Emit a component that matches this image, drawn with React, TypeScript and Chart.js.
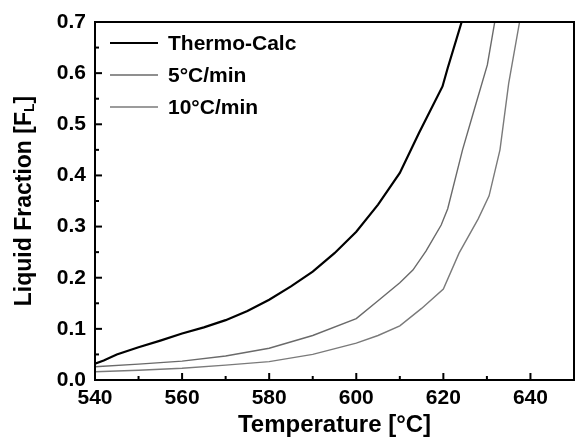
import React, { useEffect, useRef } from "react";
import { Chart, registerables } from "chart.js";

Chart.register(...registerables);

// ---- Data ----
const thermoTemps = [540, 542, 545, 550, 555, 560, 565, 570, 575, 580, 585, 590, 595, 600, 605, 610, 614.4, 619.8, 621, 624.2];
const thermoFrac = [0.032, 0.038, 0.05, 0.064, 0.077, 0.091, 0.103, 0.117, 0.135, 0.157, 0.183, 0.212, 0.248, 0.29, 0.343, 0.405, 0.483, 0.574, 0.61, 0.7];

const rate5Temps = [540, 550, 560, 570, 580, 590, 600, 605, 610, 613, 616, 619.5, 621, 624.4, 627, 630.1, 631.8];
const rate5Frac = [0.026, 0.031, 0.037, 0.047, 0.062, 0.087, 0.12, 0.155, 0.19, 0.215, 0.252, 0.303, 0.335, 0.45, 0.526, 0.616, 0.7];

const rate10Temps = [540, 550, 560, 570, 580, 590, 600, 605, 610, 615, 620, 623.6, 628, 630.5, 633, 635, 637.5];
const rate10Frac = [0.016, 0.019, 0.023, 0.029, 0.036, 0.05, 0.072, 0.087, 0.106, 0.14, 0.178, 0.248, 0.315, 0.36, 0.45, 0.58, 0.7];

const seriesLabels = ["Thermo-Calc", "5°C/min", "10°C/min"];

const xMajorTicks = [540, 560, 580, 600, 620, 640];
const xMinorTicks = [550, 570, 590, 610, 630, 650];
const yMajorTicks = [0.0, 0.1, 0.2, 0.3, 0.4, 0.5, 0.6, 0.7];
const yMinorTicks = [0.05, 0.15, 0.25, 0.35, 0.45, 0.55, 0.65];

const xTitle = "Temperature [°C]";
const yTitleMain = "Liquid Fraction [F";
const yTitleSub = "L";
const yTitleEnd = "]";

const FONT = "'Liberation Sans', Arial, Helvetica, sans-serif";

const toPoints = (xs: number[], ys: number[]) => xs.map((x, i) => ({ x, y: ys[i] }));

const decorPlugin = {
  id: "decor",
  afterDraw(chart: any) {
    const { ctx, chartArea, scales } = chart;
    const { left, right, top, bottom } = chartArea;
    const xs = scales.x;
    const ys = scales.y;
    ctx.save();
    ctx.strokeStyle = "#000";
    ctx.lineWidth = 2;
    ctx.strokeRect(left, top, right - left, bottom - top);

    const seg = (x1: number, y1: number, x2: number, y2: number) => {
      ctx.beginPath();
      ctx.moveTo(x1, y1);
      ctx.lineTo(x2, y2);
      ctx.stroke();
    };
    ctx.lineWidth = 2;
    xMajorTicks.forEach((v) => {
      const p = xs.getPixelForValue(v);
      seg(p, bottom, p, bottom - 7);
    });
    xMinorTicks.forEach((v) => {
      const p = xs.getPixelForValue(v);
      seg(p, bottom, p, bottom - 4);
    });
    yMajorTicks.forEach((v) => {
      const p = ys.getPixelForValue(v);
      seg(left, p, left + 7, p);
    });
    yMinorTicks.forEach((v) => {
      const p = ys.getPixelForValue(v);
      seg(left, p, left + 4, p);
    });

    // legend inside plot
    ctx.font = `bold 21px ${FONT}`;
    ctx.textBaseline = "middle";
    ctx.textAlign = "left";
    chart.data.datasets.forEach((ds: any, i: number) => {
      const y = top + 21 + i * 32;
      ctx.strokeStyle = ds.borderColor;
      ctx.lineWidth = ds.borderWidth;
      seg(left + 15, y, left + 63, y);
      ctx.fillStyle = "#000";
      ctx.fillText(ds.label, left + 73, y + 1);
    });

    // x axis title
    ctx.fillStyle = "#000";
    ctx.font = `bold 24px ${FONT}`;
    ctx.textAlign = "center";
    ctx.textBaseline = "middle";
    ctx.fillText(xTitle, (left + right) / 2, 425);

    // y axis title with subscript
    ctx.save();
    const cy = (top + bottom) / 2;
    ctx.translate(23, cy);
    ctx.rotate(-Math.PI / 2);
    const mainFont = `bold 23px ${FONT}`;
    const subFont = `bold 14px ${FONT}`;
    ctx.font = mainFont;
    const w1 = ctx.measureText(yTitleMain).width;
    const w3 = ctx.measureText(yTitleEnd).width;
    ctx.font = subFont;
    const w2 = ctx.measureText(yTitleSub).width;
    const total = w1 + w2 + w3;
    let x0 = -total / 2;
    ctx.textAlign = "left";
    ctx.textBaseline = "alphabetic";
    ctx.font = mainFont;
    ctx.fillText(yTitleMain, x0, 8);
    x0 += w1;
    ctx.font = subFont;
    ctx.fillText(yTitleSub, x0, 11);
    x0 += w2;
    ctx.font = mainFont;
    ctx.fillText(yTitleEnd, x0, 8);
    ctx.restore();

    ctx.restore();
  },
};

export default function App() {
  const canvasRef = useRef<HTMLCanvasElement | null>(null);

  useEffect(() => {
    if (!canvasRef.current) return;
    const chart = new Chart(canvasRef.current, {
      type: "scatter",
      data: {
        datasets: [
          {
            label: seriesLabels[0],
            data: toPoints(thermoTemps, thermoFrac),
            showLine: true,
            borderColor: "#000000",
            borderWidth: 2.2,
            pointRadius: 0,
            tension: 0,
          },
          {
            label: seriesLabels[1],
            data: toPoints(rate5Temps, rate5Frac),
            showLine: true,
            borderColor: "#6a6a6a",
            borderWidth: 1.4,
            pointRadius: 0,
            tension: 0,
          },
          {
            label: seriesLabels[2],
            data: toPoints(rate10Temps, rate10Frac),
            showLine: true,
            borderColor: "#7a7a7a",
            borderWidth: 1.4,
            pointRadius: 0,
            tension: 0,
          },
        ],
      },
      options: {
        animation: false,
        responsive: true,
        maintainAspectRatio: false,
        layout: { padding: { top: 22, right: 2, left: 0, bottom: 0 } },
        plugins: {
          legend: { display: false },
          tooltip: { enabled: false },
        },
        scales: {
          x: {
            type: "linear",
            min: 540,
            max: 650,
            grid: { display: false, drawTicks: false },
            border: { display: false },
            afterBuildTicks: (scale: any) => {
              scale.ticks = xMajorTicks.map((value) => ({ value }));
            },
            afterFit: (scale: any) => {
              scale.height = 66;
            },
            ticks: {
              padding: 6,
              color: "#000",
              font: { family: FONT, size: 21, weight: "bold" },
              callback: (v: any) => String(v),
              maxRotation: 0,
              autoSkip: false,
            },
          },
          y: {
            type: "linear",
            min: 0,
            max: 0.7,
            grid: { display: false, drawTicks: false },
            border: { display: false },
            afterBuildTicks: (scale: any) => {
              scale.ticks = yMajorTicks.map((value) => ({ value }));
            },
            afterFit: (scale: any) => {
              scale.width = 95;
            },
            ticks: {
              padding: 9,
              color: "#000",
              font: { family: FONT, size: 21, weight: "bold" },
              callback: (v: any) => Number(v).toFixed(1),
              autoSkip: false,
            },
          },
        },
      },
      plugins: [decorPlugin],
    } as any);
    return () => chart.destroy();
  }, []);

  return (
    <div style={{ position: "absolute", left: 0, top: 0, width: 576, height: 446, background: "#fff" }}>
      <canvas ref={canvasRef} />
    </div>
  );
}
